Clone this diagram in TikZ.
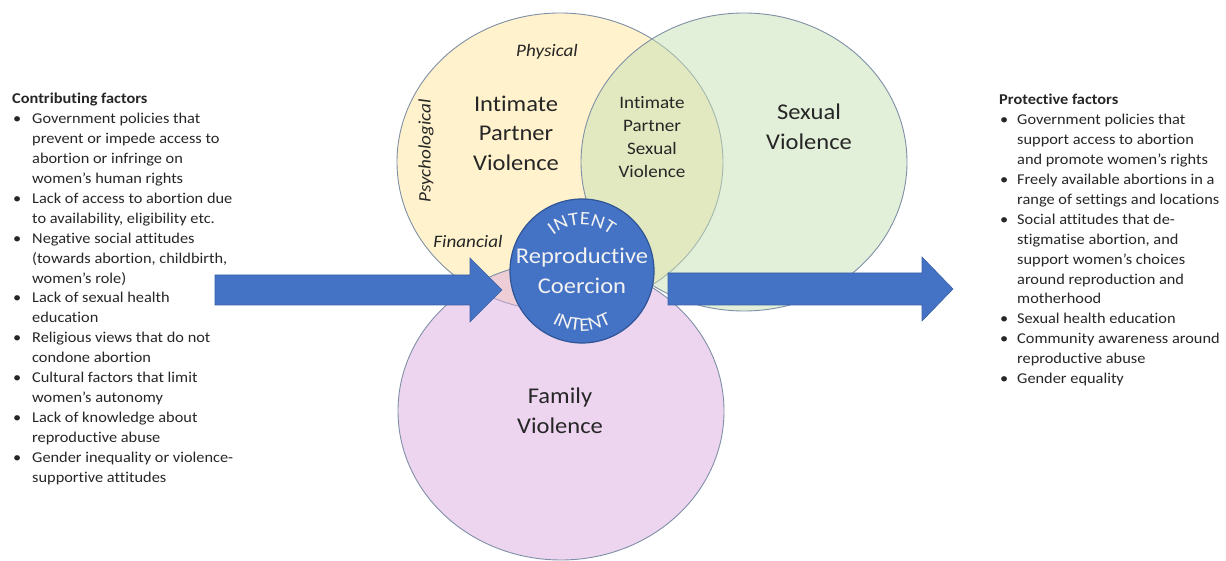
\documentclass[tikz,border=0pt]{standalone}
\usepackage{fontspec}
\setmainfont{Carlito}[FakeStretch=1.09, Ligatures=NoCommon]
\usetikzlibrary{shapes.geometric,decorations.text}

\definecolor{txtgray}{HTML}{262626}
\definecolor{vennline}{HTML}{7F8FA6}
\definecolor{ipvfill}{HTML}{FFE699}
\definecolor{svfill}{HTML}{C5E0B4}
\definecolor{fvfill}{HTML}{DBABE1}
\definecolor{rcblue}{HTML}{4472C4}
\definecolor{rcline}{HTML}{2F5597}

\newcommand{\fbul}{\hspace{1pt}\textbullet}

\tikzset{
  venn/.style={ellipse, draw=vennline, line width=0.9pt, minimum width=326pt,
    minimum height=298pt, inner sep=0pt, fill opacity=0.5},
  coercion/.style={circle, draw=rcline, line width=1.2pt, fill=rcblue,
    minimum size=144pt, inner sep=0pt},
  bigtxt/.style={align=center, text=txtgray, font=\fontsize{22.5}{29.5}\selectfont},
  midtxt/.style={align=center, text=txtgray, font=\fontsize{17.5}{23}\selectfont},
  kindtxt/.style={text=txtgray, font=\fontsize{17.5}{20}\selectfont\itshape},
  factorlist/.style={anchor=base west, inner sep=0pt, text=txtgray,
    font=\fontsize{15}{19.9}\selectfont},
  blockarrow/.style={fill=rcblue, draw=rcblue!85!black, line width=0.6pt},
  intent/.style={decorate, decoration={text along path, text align=center,
    text color=white!95!black, text={|\fontsize{19}{19}\selectfont|INTENT}}}
}

\begin{document}
\begin{tikzpicture}[x=1pt, y=1pt]
    \useasboundingbox (0,0) rectangle (1226,561);

    % Three overlapping circles
    \node[venn, fill=ipvfill] (ipv) at (560,399) {};
    \node[venn, fill=svfill] (sv) at (744,399) {};
    \node[venn, fill=fvfill] (fv) at (561,150) {};

    % Block arrows in and out
    \draw[blockarrow] (215,256) -- (470,256) -- (470,239) -- (502,271)
        -- (470,303) -- (470,286) -- (215,286) -- cycle;
    \draw[blockarrow] (668,256) -- (922,256) -- (922,240) -- (953,272)
        -- (922,304) -- (922,288) -- (668,288) -- cycle;

    % Centre circle
    \node[coercion] (rc) at (582,290) {};
    \node[bigtxt, text=white!95!black] (rctxt) at (rc) {Reproductive\\Coercion};
    \path[intent] (rc.center) ++(152:46) arc (152:28:46);
    \path[intent] (rc.center) ++(236:60) arc (236:304:60);

    % Circle labels
    \node[bigtxt] (ipvtxt) at (516,428) {Intimate\\Partner\\Violence};
    \node[midtxt] (ipsvtxt) at (652,424) {Intimate\\Partner\\Sexual\\Violence};
    \node[bigtxt] (svtxt) at (809,434) {Sexual\\Violence};
    \node[bigtxt] (fvtxt) at (560,150) {Family\\Violence};

    % Forms of abuse
    \node[kindtxt] (physical) at (547,509) {Physical};
    \node[kindtxt, rotate=90] (psych) at (426,410) {Psychological};
    \node[kindtxt] (financial) at (468,320) {Financial};

    % Contributing factors
    \node[factorlist] (contrib) at (12,457) {%
      \begin{tabular}[t]{@{}p{20pt}@{}l@{}}
        \multicolumn{2}{@{}l@{}}{\bfseries Contributing factors}\\
        \fbul & Government policies that\\
             & prevent or impede access to\\
             & abortion or infringe on\\
             & women’s human rights\\
        \fbul & Lack of access to abortion due\\
             & to availability, eligibility etc.\\
        \fbul & Negative social attitudes\\
             & (towards abortion, childbirth,\\
             & women’s role)\\
        \fbul & Lack of sexual health\\
             & education\\
        \fbul & Religious views that do not\\
             & condone abortion\\
        \fbul & Cultural factors that limit\\
             & women’s autonomy\\
        \fbul & Lack of knowledge about\\
             & reproductive abuse\\
        \fbul & Gender inequality or violence-\\
             & supportive attitudes
      \end{tabular}};

    % Protective factors
    \node[factorlist] (protect) at (999,456) {%
      \begin{tabular}[t]{@{}p{18pt}@{}l@{}}
        \multicolumn{2}{@{}l@{}}{\bfseries Protective factors}\\
        \fbul & Government policies that\\
             & support access to abortion\\
             & and promote women’s rights\\
        \fbul & Freely available abortions in a\\
             & range of settings and locations\\
        \fbul & Social attitudes that de-\\
             & stigmatise abortion, and\\
             & support women’s choices\\
             & around reproduction and\\
             & motherhood\\
        \fbul & Sexual health education\\
        \fbul & Community awareness around\\
             & reproductive abuse\\
        \fbul & Gender equality
      \end{tabular}};
\end{tikzpicture}
\end{document}
